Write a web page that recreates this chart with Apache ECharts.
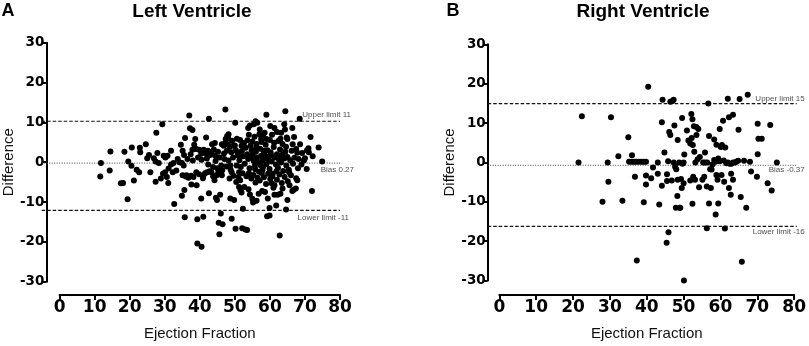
<!DOCTYPE html>
<html><head><meta charset="utf-8">
<script src="https://cdn.jsdelivr.net/npm/echarts@6/dist/echarts.min.js"></script>
<style>html,body{margin:0;padding:0;background:#fff}#c{width:809px;height:346px}</style>
</head><body><div id="c"></div>
<script>
// ---------- data ----------
const panelLetters = ['A', 'B'];
const panelTitles = ['Left Ventricle', 'Right Ventricle'];
const xName = 'Ejection Fraction';
const yName = 'Difference';
const xTicks = [0, 80, 10];
const yTicks = [-30, 30, 10];

// Left ventricle: [ejection fraction, difference]
const lvPoints = [
 [11.8,-0.2],[11.6,-3.6],[14.5,2.7],[14.3,-2.1],[17.5,-5.3],[18.1,-5.2],[18.5,2.6],[19.4,-9.3],[19.6,0.2],[20.5,-0.9],
 [20.6,3.7],[21.2,-4.6],[22,-1.9],[22.7,-2.5],[22.9,3.6],[23,2.5],[24.6,4.5],[25,1],[25.5,1.8],[25.9,-2.5],
 [26.9,1],[27.4,0.2],[27.6,7.4],[27.4,-4.9],[27.9,2.3],[28.3,-0.2],[28.9,-4.1],[29.3,9.5],[29.7,1.6],[30.2,1.2],
 [30.8,1.6],[29.5,-2.9],[30.1,-2.5],[30.6,-3.7],[31,-5.2],[31.1,-1.6],[31.8,2.9],[32.5,-0.2],[32.3,-2.5],[32.7,-10.5],
 [33.7,0.8],[34.2,0],[34.6,4.4],[35.1,2.9],[34.9,-0.2],[35.4,-0.8],[34.9,-8.4],[35.1,-3.3],[35.6,-7],[35.7,-13.8],
 [35.8,6.1],[36.2,-3.3],[36.8,-3.9],[37,11.7],[37.2,8.5],[37.9,8.1],[37.4,2],[37.9,3.1],[37.6,-5.6],[38.4,4.4],
 [39,3.3],[38.7,5.8],[39,-2.5],[39.8,-3],[39.1,-5.8],[39.3,-14.3],[39.3,-20.4],[40.5,-21.2],[39.8,3.1],[40.4,2.1],
 [40.4,-9.1],[40.9,-4],[41,-13.7],[41.1,3.1],[41.8,6.2],[41.8,2.1],[42.3,2.9],[42.1,-2.5],[42.8,-2.3],[43.3,-2.5],
 [42.6,10.9],[42.6,-7.8],[43.5,4.5],[44.3,4.8],[44.2,-4.5],[44.4,1.6],[44.6,-8.9],[44.9,-9.5],[45.3,-2.5],[45.4,-15.2],
 [45.6,-18.1],[45.8,-8.2],[46,-12.9],[46.1,-0.8],[46.3,-3.3],[46.5,-15.6],[46.8,4.1],[47.3,13.2],[47.4,5.8],[47.8,6.6],
 [48.2,7],[47.7,2.9],[48.2,0.4],[48.7,-0.8],[48.5,-4.1],[48.7,-9.1],[49.1,-14.2],[49.1,-2.5],[49.6,4.1],[49.8,-9.5],
 [50.1,9.9],[50.2,-16.7],[50.5,-0.8],[51,1.6],[51.2,-2.5],[51.5,-4.5],[51.2,-6.2],[51.6,-7],[51.9,4.1],[52.1,-16.6],
 [53,-16.9],[53.5,-17],[52.3,-11.7],[52.7,-6.2],[53.8,8.6],[54.3,9.2],[54,6.9],[54.3,-8.1],[55,-9.2],[55.2,-10.1],
 [55.4,9.5],[55.9,10.3],[56.4,9.9],[56.2,-9.7],[57.1,8.2],[57.5,5.8],[57.8,-7.2],[59,11.9],[58.5,7.4],[59,5.8],
 [59.2,-13.6],[59.9,-13.4],[59.4,-9.1],[59.9,-11.5],[60.1,9.1],[60.5,-5.3],[61.3,8.6],[61.3,-8.2],[61.8,-10.9],[62.2,-8.2],
 [62.8,-18.4],[63.2,7.4],[63.6,-6.6],[64.1,9.5],[64.3,8.2],[64.4,12.8],[64.6,-11.9],[65,-9.5],[65,5.8],[65.5,-2.5],
 [66.4,8.6],[66.4,-7.2],[66.9,6.3],[67.4,-6.6],[67.8,-4.5],[68.5,10.9],[68.6,4.5],[69.2,2.3],[69.7,0.4],[70.6,3],
 [71.1,2.5],[71.6,6.3],[72,-7.2],[72.2,1.5],[73.9,3.7],[74.9,0.2],
 [48,4.5],[48.5,3.8],[49,2.5],[49.5,1.2],[50,4.2],[50.3,3],[50.8,2.2],[51.3,0.5],[51.7,-1.2],[52,2.8],
 [52.4,1.5],[52.8,-0.4],[53.1,3.6],[53.5,2],[53.8,0.8],[54.2,-1.5],[54.5,4.2],[54.8,3],[55.1,1.8],[55.4,0.3],
 [55.7,-0.9],[56,2.6],[56.3,1.1],[56.6,-0.2],[56.9,-2.4],[57.2,3.4],[57.5,1.6],[57.8,0.4],[58.1,-1.1],[58.4,2.2],
 [58.7,0.9],[59,-0.5],[59.3,3],[59.6,1.4],[59.9,-1.7],[60.2,2.5],[60.5,0.2],[60.8,-2.9],[61.1,3.8],[61.4,1.2],
 [61.7,-0.6],[62,2],[62.3,-1.4],[62.6,0.7],[62.9,3.2],[63.2,-0.1],[63.5,1.9],[63.8,-2.2],[64.1,0.9],[64.4,2.6],
 [64.7,-0.8],[65,1.3],[65.4,-1.9],[65.8,0.5],[66.2,2.9],[66.6,-0.4],[67,1.1],[67.5,3.3],[68,-1.5],[53.3,-3.5],
 [54,-2.8],[54.7,-4.1],[55.3,-3.2],[55.9,-5.1],[56.5,-3.9],[57.1,-4.6],[57.7,-2.7],[58.3,-3.8],[58.9,-5.5],[59.5,-2.9],
 [60.1,-4.2],[60.7,-3.5],[61.3,-5.8],[62,-4.4],[62.7,-3.1],[63.4,-5.2],[64.2,-3.7],[65.1,-4.8],[66,-3.3],[52.2,-2.8],
 [51,-3.8],[50.4,-5],[49.6,-3.4],[48.8,-1.9],[47.6,-1.1],[47,0.8],[46.4,-2],[45.7,1.2],[45,-1.5],[44.5,0.3],
 [43.8,-1.2],[43,1.8],[42.4,-0.6],[55,5.2],[56.2,4.6],[57.6,5.1],[58.8,4.4],[60,5.6],[61.2,4.9],[62.4,5.3],
 [63.6,4.6],[64.8,6.2],[55.6,6.4],[57,7],[58,6.6],[60.6,6.9],[62,7.6],[63,5.9],[53.6,5.5],[52.6,4.8],
 [51.5,5.6],[50.6,5.9],[49.2,5.4],[48.1,6],[56.8,-7.9],[58.6,-7.5],[53.9,-6.8],[51.9,-7.6],[63,-7.9],[61,-6.4],
 [55.8,-1.8],[57.4,-0.8],[59.7,0.6],[61.9,-2.2],[60.3,1.8],[58.2,2.9],[56.1,3.6],[54.4,1.2],[57.9,-1.9],[62.8,1.5],
 [64.6,3.9],[66.5,4.5],[67.8,2.4],[65.6,-5.8],[66.8,-6.9],[67.5,-4],[68.2,0.8],[69,-0.6],[70,1],[70.5,-1.7],
 [71,3.5],[36,-3.6],[37.5,-3.4],[38.2,-3.7],[41,-3.4],[41.5,-2.8],[43.8,-3.5],[44.8,-3.3],[36.5,0.8],[38,0.4],
 [39.5,1.2],[40.5,0.6],[42,0.9],[43.4,2.6],[44,3.2],[45.2,2.6],[46.3,4.5],[47.3,4.9],[46.9,2.2],[35.5,1.8],
 [33.3,-2.1],[31.8,-0.6]
];

// Right ventricle: [ejection fraction, difference]
const rvPoints = [
 [21.5,0],[22.4,11.7],[28,-10],[29.4,0],[29.6,-4.9],[30.3,11.5],[32.3,1.6],[33.4,-9.7],[35,6.4],[36,1.8],
 [35.2,0.2],[35.9,0.2],[36.5,0.2],[37.1,0.2],[37.8,0.2],[38.5,0.2],[39.1,0.2],[39.8,0.2],[36.8,-3.6],[37.3,-24.9],
 [39.2,-10.1],[39.8,-5.6],[39.8,-3.3],[40.4,19.2],[41.2,-4],[41.7,-1.3],[43,0],[43,-2.9],[43.4,-10.7],[44.1,10.2],
 [44.1,-5.9],[44.3,15.9],[44.8,2.5],[45.5,-4.7],[45.5,-3],[45.4,-20.4],[45.8,0.3],[45.9,-17.7],[46.1,7.7],[46.4,7],
 [46.4,15.4],[47,15.6],[47.3,15.9],[46.8,-4.6],[47.3,0],[47.5,9.4],[47.7,-1.1],[48,-1.7],[48.3,-8.5],[48.4,5.7],
 [48.4,-4.4],[47.9,-11.5],[48.9,-11.5],[49.1,-11.5],[48.8,0],[49.3,-4.2],[49.5,-6.5],[49.6,11.3],[49.7,-0.3],[50,0],
 [50,-5.3],[50.1,-30],[50.2,2],[50.9,8.1],[51.3,5.6],[51.8,4.8],[51.8,-4.6],[52.1,12.3],[52.4,11],[52.8,9.2],
 [52.2,6.2],[52.5,4.4],[52.4,-10.5],[52.6,-3.6],[53.1,-4.4],[52.9,2.7],[53.2,0],[53.8,0.8],[53.5,9],[54,8.5],
 [53.5,7],[54.2,-6.3],[54.4,1.4],[55.1,-4.4],[55.6,-3.6],[55.3,0],[55.8,0],[56.4,0],[55.8,2.5],[56.3,-16.7],
 [56.3,-6.1],[56.7,15],[56.9,6.7],[56.9,-10.4],[57.2,-1.7],[57.4,-6.5],[57.8,-0.5],[58.3,0.6],[58.3,5.8],[58.7,-13.2],
 [58.9,4.5],[58.9,-3.2],[59.2,-4.4],[59.4,-10.4],[59.4,1],[59.8,0.3],[59.8,8.5],[60.1,3.9],[60.4,4.4],[60.3,-3.2],
 [60.7,10.6],[61,-4.9],[61.2,-16.8],[61.3,3.8],[61.6,-0.2],[62,0],[62.5,-0.3],[63,-0.3],[63.4,0],[63.9,0],
 [64.3,0.2],[64.8,0.4],[62,16.2],[62.3,11.5],[63.4,12.1],[62.3,-6.5],[62.8,-8.2],[62.9,-2.9],[63.4,-4.4],[64.9,8.3],
 [65.2,16.1],[65.5,-8.8],[65.8,-25.2],[66.4,0.4],[67,-11.5],[67.4,17.2],[68,0.2],[68.3,-2.3],[69.9,-3.6],[70.1,9.8],
 [70.1,2.1],[70.3,6],[71.2,6],[72.8,-5.3],[73.5,9.5],[73.9,-7.1],[75.3,0],[57.6,-1.8],[58.6,0.2],[60.9,0.5]
];

// Bland–Altman reference lines: [upper, bias, lower] values and their labels
const lvLimits = [10.6, 0.27, -11.4];
const rvLimits = [15.1, -0.37, -15.7];
const lvLimitLabels = ['Upper limit 11', 'Bias 0.27', 'Lower limit -11'];
const rvLimitLabels = ['Upper limit 15', 'Bias -0.37', 'Lower limit -16'];
// reference lines run across the whole frame, from the y axis to the right end
const frameX = [0, 1];

// ---------- chart ----------
const chart = echarts.init(document.getElementById('c'), null, {renderer: 'canvas'});
const panels = [
  {grid: {left: 55, top: 42.7, width: 285, height: 243}, yOff: 13.3, xOff: 13.3, titleX: 192, letterX: 1.5,
   pts: lvPoints, lim: lvLimits, labs: lvLimitLabels,
   labOff: [[11, -6], [14, 7], [9, 7]]},
  {grid: {left: 499.3, top: 44.3, width: 297.4, height: 239}, yOff: 11.6, xOff: 14.4, titleX: 643, letterX: 446.5,
   pts: rvPoints, lim: rvLimits, labs: rvLimitLabels,
   labOff: [[8, -5], [8, 5], [8, 5]]}
];
const series = [], grids = [], xAxes = [], yAxes = [], titles = [];
panels.forEach((p, i) => {
  const gMain = i * 2, gLines = i * 2 + 1;
  grids.push(Object.assign({containLabel: false}, p.grid));
  // frame grid for the reference lines: starts at the (offset) y axis
  grids.push({left: p.grid.left - p.yOff, top: p.grid.top, width: p.grid.width + p.yOff, height: p.grid.height});
  xAxes.push({
    gridIndex: gMain, type: 'value', min: xTicks[0], max: xTicks[1], interval: xTicks[2], offset: p.xOff,
    name: xName, nameLocation: 'middle', nameGap: 31,
    nameTextStyle: {fontFamily: 'Liberation Sans', fontSize: 15, color: '#111'},
    axisLine: {show: true, onZero: false, lineStyle: {color: '#000', width: 2}},
    axisTick: {show: true, inside: false, length: 5, lineStyle: {color: '#000', width: 2}},
    axisLabel: {fontFamily: 'DejaVu Sans', fontWeight: 'bold', fontSize: 17, color: '#000', margin: 4},
    splitLine: {show: false}
  });
  xAxes.push({gridIndex: gLines, type: 'value', min: frameX[0], max: frameX[1], show: false});
  yAxes.push({
    gridIndex: gMain, type: 'value', min: yTicks[0], max: yTicks[1], interval: yTicks[2], offset: p.yOff,
    name: yName, nameLocation: 'middle', nameGap: 26, nameRotate: 90,
    nameTextStyle: {fontFamily: 'Liberation Sans', fontSize: 15, color: '#111'},
    axisLine: {show: true, onZero: false, lineStyle: {color: '#000', width: 2}},
    axisTick: {show: true, inside: false, length: 4, lineStyle: {color: '#000', width: 2}},
    axisLabel: {fontFamily: 'DejaVu Sans', fontWeight: 'bold', fontSize: 13.5, color: '#000', margin: 2},
    splitLine: {show: false}
  });
  yAxes.push({gridIndex: gLines, type: 'value', min: yTicks[0], max: yTicks[1], show: false});
  titles.push({text: panelTitles[i], left: p.titleX, textAlign: 'center', top: 2, padding: 0,
    textStyle: {fontFamily: 'Liberation Sans', fontWeight: 'bold', fontSize: 19, color: '#000'}});
  titles.push({text: panelLetters[i], left: p.letterX, top: 2, padding: 0,
    textStyle: {fontFamily: 'Liberation Sans', fontWeight: 'bold', fontSize: 18, color: '#000'}});
  // reference lines
  p.lim.forEach((v, k) => {
    series.push({
      type: 'line', xAxisIndex: gLines, yAxisIndex: gLines, silent: true, symbol: 'none',
      data: frameX.map(x => [x, v]),
      lineStyle: k === 1 ? {color: '#444', width: 1, type: [1, 1.5]} : {color: '#111', width: 1.2, type: [3.5, 2]},
      z: 1
    });
  });
  // limit labels
  series.push({
    type: 'scatter', xAxisIndex: gLines, yAxisIndex: gLines, clip: false, silent: true, symbolSize: 0,
    data: p.lim.map((v, k) => ({value: [frameX[1], v], label: {offset: p.labOff[k]}, name: p.labs[k]})),
    label: {show: true, position: 'inside', align: 'right', verticalAlign: 'middle',
      formatter: d => d.name, fontFamily: 'Liberation Sans', fontSize: 8, color: '#222'},
    z: 3
  });
  // points
  series.push({
    type: 'scatter', xAxisIndex: gMain, yAxisIndex: gMain, symbol: 'circle', symbolSize: 6,
    itemStyle: {color: '#000', opacity: 1}, data: p.pts, z: 2
  });
});
chart.setOption({animation: false, backgroundColor: '#fff', title: titles, grid: grids,
  xAxis: xAxes, yAxis: yAxes, series: series});
</script></body></html>
